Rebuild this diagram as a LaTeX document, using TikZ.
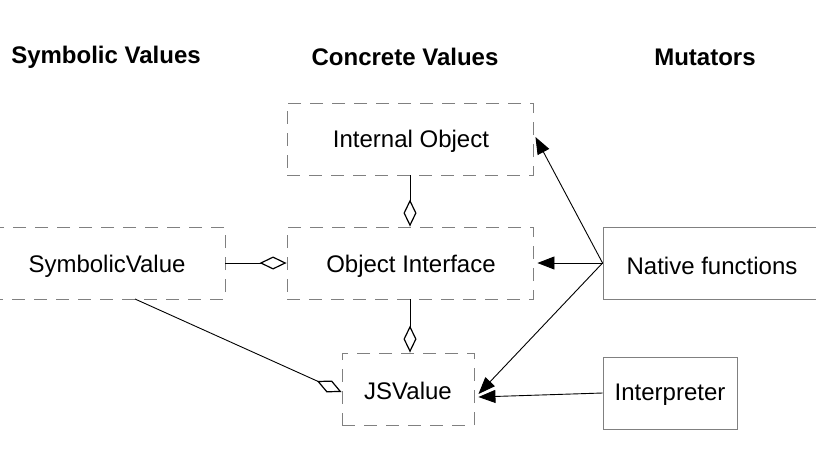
\documentclass[tikz,border=0pt]{standalone}
\usepackage{fontspec}
\setmainfont{Liberation Sans}
\usepackage{tikz}
\usetikzlibrary{positioning,arrows.meta}

\tikzset{
  concrete/.style={draw=gray, dash pattern=on 13pt off 9pt, rectangle, inner sep=0, minimum height=72pt},
  mutator/.style={draw=gray, rectangle, inner sep=0, minimum height=72pt},
  heading/.style={font=\fontsize{24}{28}\selectfont\bfseries},
  owns/.style={-{Diamond[open,length=27pt,width=13pt,line width=1.2pt]}},
  calls/.style={-{Triangle[length=17pt,width=13pt]}}
}

\begin{document}
\begin{tikzpicture}[x=1pt, y=-1pt, line width=0.9pt, font=\fontsize{24}{28}\selectfont]
\useasboundingbox (0,0) rectangle (816,472);
\node[heading] (hsym) at(106,57) {Symbolic Values};
\node[heading] (hcon) at(405,57) {Concrete Values};
\node[heading] (hmut) at(705,57) {Mutators};

\node[concrete, minimum width=246pt] (intobj) at(410,139) {};
\node at(411,141) {Internal Object};
\node[concrete, minimum width=246pt] (objiface) at(410,263) {};
\node at(411,266) {Object Interface};
\node[concrete, minimum width=235pt] (symval) at(107.5,263) {};
\node at(107,266) {SymbolicValue};
\node[concrete, minimum width=132pt] (jsval) at(408,389) {};
\node at(408,391) {JSValue};

\node[mutator, minimum width=222pt] (native) at(714,263) {};
\node at(712,266) {Native functions};
\node[mutator, minimum width=134pt] (interp) at(670,393) {};
\node at(670,395) {Interpreter};

\coordinate (nf) at(native.west);
\coordinate (sb) at(135,299);
\path[draw]
	(intobj.south) edge[owns] (objiface.north)
	(symval.east) edge[owns] (objiface.west)
	(objiface.south) edge[owns] ([xshift=2pt]jsval.north)
	(sb) edge[owns] ([yshift=-3pt]jsval.west)
	(nf) edge[calls] ([xshift=2pt,yshift=2pt]intobj.east)
	(nf) edge[calls] ([xshift=4pt]objiface.east)
	(nf) edge[calls] ([xshift=4pt,yshift=-5pt]jsval.east)
	(interp.west) edge[calls] ([xshift=4pt,yshift=-8pt]jsval.east);
\end{tikzpicture}
\end{document}
